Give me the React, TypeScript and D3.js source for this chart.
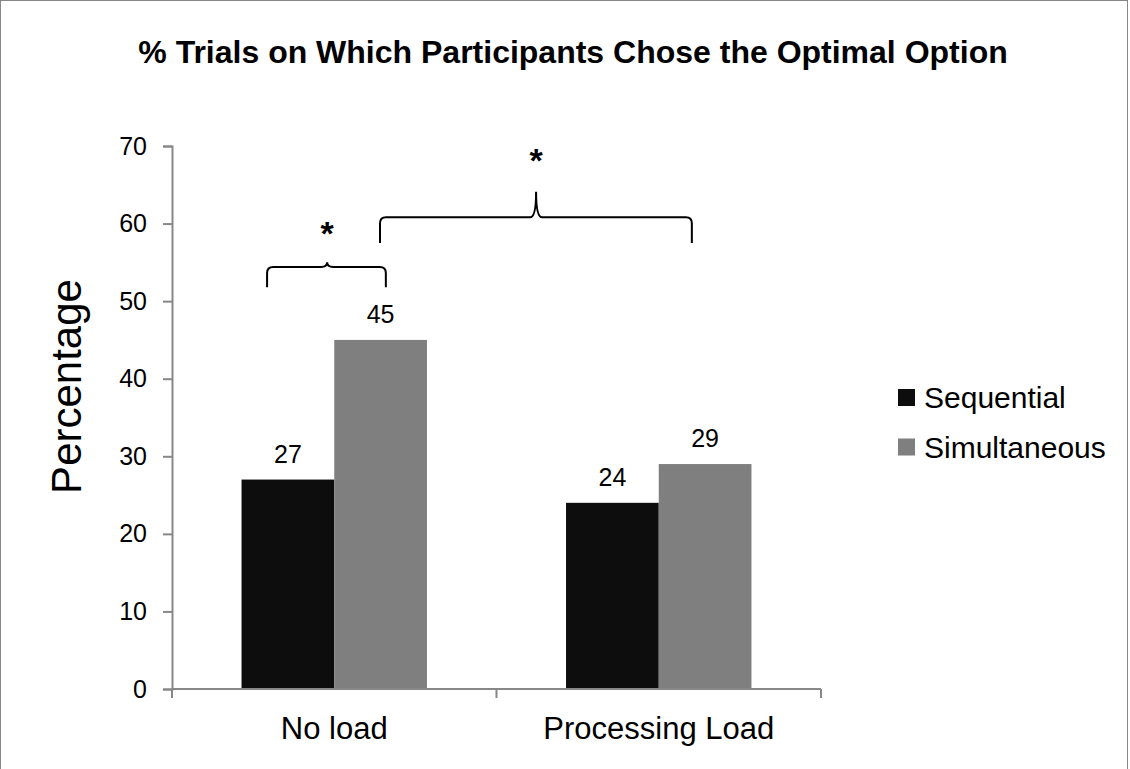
import React, { useRef, useEffect } from 'react';
import * as d3 from 'd3';

const categories = ['No load', 'Processing Load'];
const seriesNames = ['Sequential', 'Simultaneous'];
const sequential = [27, 24];
const simultaneous = [45, 29];
const yTicks = [0, 10, 20, 30, 40, 50, 60, 70];
const colors = ['#0d0d0d', '#7f7f7f'];

// significance brackets, x in category units (0..2 along the axis), y in data units
const brackets = [
  { x0: 0.293, x1: 0.659, peak: 0.478, y: 54.4, drop: 2.6, rise: 0.6, star: 59.7 },
  { x0: 0.641, x1: 1.602, peak: 1.122, y: 60.8, drop: 3.3, rise: 3.3, star: 69.1 },
];

const App = () => {
  const ref = useRef<SVGSVGElement | null>(null);

  useEffect(() => {
    const width = 1130;
    const height = 769;
    const margin = { top: 146, left: 172, right: 309, bottom: 80 };
    const font = '"Liberation Sans", Arial, sans-serif';

    const svg = d3.select(ref.current);
    svg.selectAll('*').remove();

    svg.append('rect')
      .attr('x', 0.5).attr('y', 0.5)
      .attr('width', width - 3).attr('height', height + 20)
      .attr('fill', '#fff')
      .attr('stroke', '#868686')
      .attr('stroke-width', 1);

    const x0 = margin.left;
    const x1 = width - margin.right;
    const yBottom = height - margin.bottom;

    const x = d3.scaleBand().domain(categories).range([x0, x1]).paddingInner(0).paddingOuter(0);
    const xs = d3.scaleBand().domain(seriesNames).range([0, x.bandwidth()]).paddingInner(0).paddingOuter(0.75);
    const xc = d3.scaleLinear().domain([0, 2]).range([x0, x1]);
    const y = d3.scaleLinear().domain([0, 70]).range([yBottom, margin.top]);

    // title
    svg.append('text')
      .attr('x', 573).attr('y', 63)
      .attr('text-anchor', 'middle')
      .attr('font-family', font)
      .attr('font-weight', 'bold')
      .attr('font-size', 32)
      .text('% Trials on Which Participants Chose the Optimal Option');

    // bars
    const values = [sequential, simultaneous];
    const g = svg.append('g');
    categories.forEach((c, ci) => {
      seriesNames.forEach((s, si) => {
        const v = values[si][ci];
        const bx = (x(c) as number) + (xs(s) as number);
        g.append('rect')
          .attr('x', bx).attr('y', y(v))
          .attr('width', xs.bandwidth())
          .attr('height', y(0) - y(v))
          .attr('fill', colors[si]);
        g.append('text')
          .attr('x', bx + xs.bandwidth() / 2)
          .attr('y', y(v) - 17)
          .attr('text-anchor', 'middle')
          .attr('font-family', font)
          .attr('font-size', 25)
          .text(v);
      });
    });

    // y axis
    const yAxis = svg.append('g').attr('transform', `translate(${x0},0)`)
      .call(d3.axisLeft(y).tickValues(yTicks).tickSize(9).tickPadding(16));
    yAxis.select('.domain').attr('stroke', '#878787').attr('stroke-width', 2);
    yAxis.selectAll('.tick line').attr('stroke', '#878787').attr('stroke-width', 2);
    yAxis.selectAll('.tick text')
      .attr('font-family', font).attr('font-size', 25).attr('fill', '#000');

    // x axis
    const xAxisG = svg.append('g').attr('transform', `translate(0,${yBottom})`);
    xAxisG.append('line')
      .attr('x1', x0).attr('x2', x1).attr('y1', 0).attr('y2', 0)
      .attr('stroke', '#878787').attr('stroke-width', 2);
    [0, 1, 2].forEach((t) => {
      xAxisG.append('line')
        .attr('x1', xc(t)).attr('x2', xc(t)).attr('y1', 0).attr('y2', 9)
        .attr('stroke', '#878787').attr('stroke-width', 2);
    });
    categories.forEach((c) => {
      xAxisG.append('text')
        .attr('x', (x(c) as number) + x.bandwidth() / 2)
        .attr('y', 50)
        .attr('text-anchor', 'middle')
        .attr('font-family', font)
        .attr('font-size', 31)
        .text(c);
    });

    // y axis title
    svg.append('text')
      .attr('transform', `translate(81,${y(39)}) rotate(-90)`)
      .attr('text-anchor', 'middle')
      .attr('font-family', font)
      .attr('font-size', 42)
      .text('Percentage');

    // brackets
    brackets.forEach((b) => {
      const yl = y(b.y);
      const ye = y(b.y - b.drop);
      const yp = y(b.y + b.rise);
      const xa = xc(b.x0);
      const xb = xc(b.x1);
      const xp = xc(b.peak);
      const r = 6;
      const path = [
        `M${xa},${ye}`,
        `L${xa},${yl + r}`,
        `Q${xa},${yl} ${xa + r},${yl}`,
        `L${xp - r},${yl}`,
        `Q${xp},${yl} ${xp},${yp}`,
        `Q${xp},${yl} ${xp + r},${yl}`,
        `L${xb - r},${yl}`,
        `Q${xb},${yl} ${xb},${yl + r}`,
        `L${xb},${ye}`,
      ].join(' ');
      svg.append('path')
        .attr('d', path)
        .attr('fill', 'none')
        .attr('stroke', '#000')
        .attr('stroke-width', 2);
      svg.append('text')
        .attr('x', xp)
        .attr('y', y(b.star) + 19)
        .attr('text-anchor', 'middle')
        .attr('font-family', font)
        .attr('font-weight', 'bold')
        .attr('font-size', 34)
        .text('*');
    });

    // legend
    const legend = svg.append('g').attr('transform', 'translate(898,389)');
    seriesNames.forEach((s, i) => {
      legend.append('rect')
        .attr('x', 0).attr('y', i * 49.5)
        .attr('width', 17).attr('height', 17)
        .attr('fill', colors[i]);
      legend.append('text')
        .attr('x', 26).attr('y', i * 49.5 + 19)
        .attr('font-family', font)
        .attr('font-size', 30)
        .text(s);
    });
  }, []);

  return (
    <svg
      ref={ref}
      width={1130}
      height={769}
      style={{ position: 'absolute', left: 0, top: 0, background: '#fff' }}
    />
  );
};

export default App;
